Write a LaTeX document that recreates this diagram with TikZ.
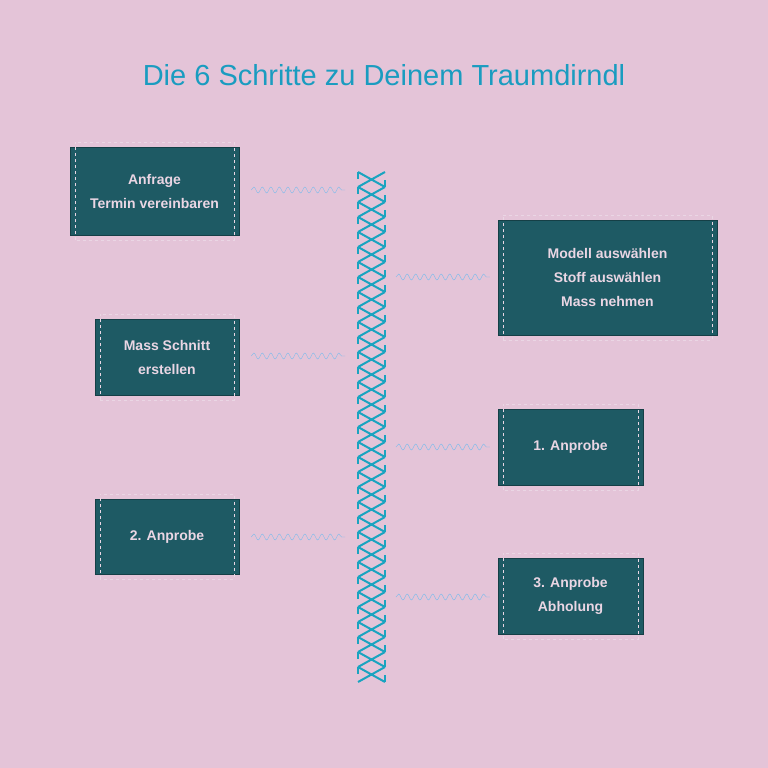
\documentclass[tikz,border=0pt]{standalone}
\usepackage{fontspec}
\setmainfont{Liberation Sans}
\usetikzlibrary{decorations.pathmorphing}
\definecolor{bgpink}{HTML}{E4C4D8}
\definecolor{boxteal}{HTML}{1E5A64}
\definecolor{titleblue}{HTML}{1A9CC0}
\definecolor{wave}{HTML}{7CBCEC}
\definecolor{stitch}{HTML}{1AA4C0}
\definecolor{boxtext}{HTML}{EAD6E4}
\tikzset{
  stepbox/.style={fill=boxteal, draw=boxteal!70!black, rectangle, align=center,
    text=boxtext, font=\bfseries\fontsize{14}{24}\selectfont, inner sep=0pt},
  seam/.style={boxtext, dashed, thin},
  wavy/.style={wave, thin, decorate, decoration={snake, amplitude=3, segment length=8.5}}
}
\begin{document}
\begin{tikzpicture}[x=1pt, y=-1pt]
  \fill[bgpink] (0,0) rectangle (768,768);
  \useasboundingbox (0,0) rectangle (768,768);
  \node[titleblue, font=\fontsize{29}{34}\selectfont] (title) at (384,75) {Die 6 Schritte zu Deinem Traumdirndl};
  % boxes
  \node[stepbox, minimum width=169, minimum height=88] (anfrage) at (154.5,191) {Anfrage\\Termin vereinbaren};
  \node[stepbox, minimum width=219, minimum height=115] (modell) at (607.5,277.5) {Modell auswählen\\Stoff auswählen\\Mass nehmen};
  \node[stepbox, minimum width=144, minimum height=76] (schnitt) at (167,357) {Mass Schnitt\\erstellen};
  \node[stepbox, minimum width=145, minimum height=76] (probeA) at (570.5,447) {1. Anprobe};
  \node[stepbox, minimum width=144, minimum height=75] (probeB) at (167,536.5) {2. Anprobe};
  \node[stepbox, minimum width=145, minimum height=76] (probeC) at (570.5,596) {3. Anprobe\\Abholung};
  \foreach \b in {anfrage,modell,schnitt,probeA,probeB,probeC}
    \draw[seam] ([shift={(5,5)}]\b.south west) rectangle ([shift={(-5,-5)}]\b.north east);
  % stitched spine
  \foreach \k in {0,...,33} {
    \pgfmathsetmacro{\ya}{172+15*\k}
    \draw[stitch, line width=2] (358,\ya) -- (385,\ya+15) (385,\ya) -- (358,\ya+15);
    \draw[stitch, line width=2] (358,\ya) -- (358,\ya+7) (385,\ya+8) -- (385,\ya+15);
  }
  % wavy connectors
  \coordinate (spineL1) at (345,190);
  \coordinate (spineL2) at (345,356);
  \coordinate (spineL3) at (345,537);
  \coordinate (spineR1) at (396,277);
  \coordinate (spineR2) at (396,447);
  \coordinate (spineR3) at (396,597);
  \draw[wavy] ([xshift=12]anfrage.east |- spineL1) -- (spineL1);
  \draw[wavy] ([xshift=12]schnitt.east |- spineL2) -- (spineL2);
  \draw[wavy] ([xshift=12]probeB.east |- spineL3) -- (spineL3);
  \draw[wavy] (spineR1) -- ([xshift=-8]modell.west |- spineR1);
  \draw[wavy] (spineR2) -- ([xshift=-8]probeA.west |- spineR2);
  \draw[wavy] (spineR3) -- ([xshift=-8]probeC.west |- spineR3);
\end{tikzpicture}
\end{document}
